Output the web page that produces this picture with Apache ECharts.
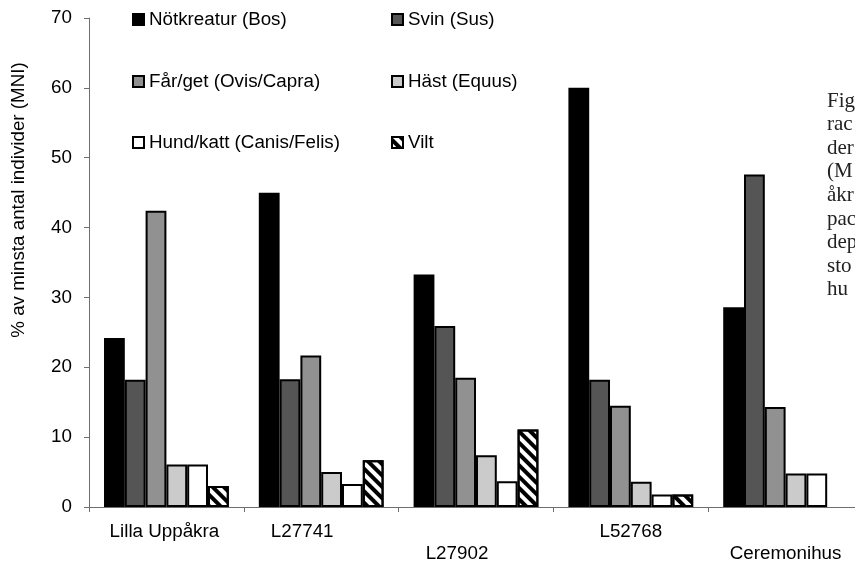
<!DOCTYPE html>
<html>
<head>
<meta charset="utf-8">
<script src="https://cdn.jsdelivr.net/npm/echarts@6/dist/echarts.min.js"></script>
<style>
html,body{margin:0;padding:0;overflow:hidden;background:#fff;}
#chart{width:863px;height:563px;}
</style>
</head>
<body>
<div id="chart"></div>
<script>
const categories = ['Lilla Uppåkra', 'L27741', 'L27902', 'L52768', 'Ceremonihus'];
const seriesNames = ['Nötkreatur (Bos)', 'Svin (Sus)', 'Får/get (Ovis/Capra)', 'Häst (Equus)', 'Hund/katt (Canis/Felis)', 'Vilt'];
const notkreatur = [24.2, 45.0, 33.3, 60.0, 28.6];
const svin = [18.2, 18.3, 25.9, 18.2, 47.6];
const farGet = [42.4, 21.7, 18.5, 14.5, 14.3];
const hast = [6.1, 5.0, 7.4, 3.6, 4.8];
const hundKatt = [6.1, 3.3, 3.7, 1.8, 4.8];
const vilt = [3.0, 6.7, 11.1, 1.8, 0];
const yAxisTitle = '% av minsta antal individer (MNI)';
const sideText = ['Fig', 'rac', 'der', '(M', 'åkr', 'pac', 'dep', 'sto', 'hu'];

const FONT = '"Liberation Sans", Arial, sans-serif';
const FS = 18.8;
const stripeDecal = {
  symbol: 'rect', symbolSize: 1, color: '#000',
  dashArrayX: [1, 0], dashArrayY: [4, 4], rotation: Math.PI / 4
};
const styles = [
  {color: '#000000', borderColor: '#000', borderWidth: 2},
  {color: '#555555', borderColor: '#000', borderWidth: 2},
  {color: '#919191', borderColor: '#000', borderWidth: 2},
  {color: '#cbcbcb', borderColor: '#000', borderWidth: 2},
  {color: '#ffffff', borderColor: '#000', borderWidth: 2},
  {color: '#ffffff', borderColor: '#000', borderWidth: 2, decal: stripeDecal}
];
const values = [notkreatur, svin, farGet, hast, hundKatt, vilt];

const legendPos = [
  [132, 10], [391, 10],
  [132, 72], [391, 72],
  [132, 133], [391, 133]
];

const chart = echarts.init(document.getElementById('chart'), null, {renderer: 'canvas'});

const labelRich = (pad) => Object.assign({fontSize: FS, fontFamily: FONT, color: '#000'}, pad ? {padding: pad} : {});

const option = {
  animation: false,
  backgroundColor: '#fff',
  grid: {left: 89, top: 18, bottom: 55, right: 0, containLabel: false},
  legend: seriesNames.map((n, i) => ({
    data: [{name: n, itemStyle: styles[i]}],
    left: legendPos[i][0], top: legendPos[i][1],
    padding: 0, itemWidth: 11, itemHeight: 11, icon: 'rect',
    selectedMode: false,
    textStyle: {fontSize: FS, fontFamily: FONT, color: '#000'}
  })),
  xAxis: {
    type: 'category',
    data: categories,
    axisLine: {lineStyle: {color: '#6e6e6e', width: 1}},
    axisTick: {show: true, length: 5, lineStyle: {color: '#6e6e6e'}},
    axisLabel: {
      interval: 0, margin: 15, color: '#000', fontSize: FS, fontFamily: FONT,
      formatter: (v, i) => '{c' + i + '|' + v + '}',
      rich: {
        c0: labelRich([0, 4, 0, 0]),
        c1: labelRich([0, 38, 0, 0]),
        c2: labelRich([22, 38, 0, 0]),
        c3: labelRich(null),
        c4: labelRich([22, 0, 0, 0])
      }
    },
    splitLine: {show: false}
  },
  yAxis: {
    type: 'value', min: 0, max: 70, interval: 10,
    axisLine: {show: true, lineStyle: {color: '#6e6e6e', width: 1}},
    axisTick: {show: true, length: 5, lineStyle: {color: '#6e6e6e'}},
    axisLabel: {margin: 17, color: '#000', fontSize: FS, fontFamily: FONT},
    splitLine: {show: false}
  },
  series: seriesNames.map((n, i) => ({
    name: n, type: 'bar',
    data: values[i].map(v => v === 0 ? {value: v, itemStyle: {borderWidth: 0}} : v),
    barGap: '0%', barCategoryGap: '19.4%',
    itemStyle: styles[i]
  })),
  graphic: [
    {
      type: 'text', x: 19, y: 200, rotation: Math.PI / 2,
      style: {text: yAxisTitle, fontSize: FS, fontFamily: FONT, fill: '#000', align: 'center', verticalAlign: 'middle'}
    }
  ].concat(sideText.map((t, i) => ({
    type: 'text', x: 827, y: 101 + i * 23.6,
    style: {text: t, fontSize: 21, fontFamily: '"Liberation Serif", "DejaVu Serif", serif', fill: '#222', align: 'left', verticalAlign: 'middle'}
  })))
};
chart.setOption(option);
</script>
</body>
</html>
